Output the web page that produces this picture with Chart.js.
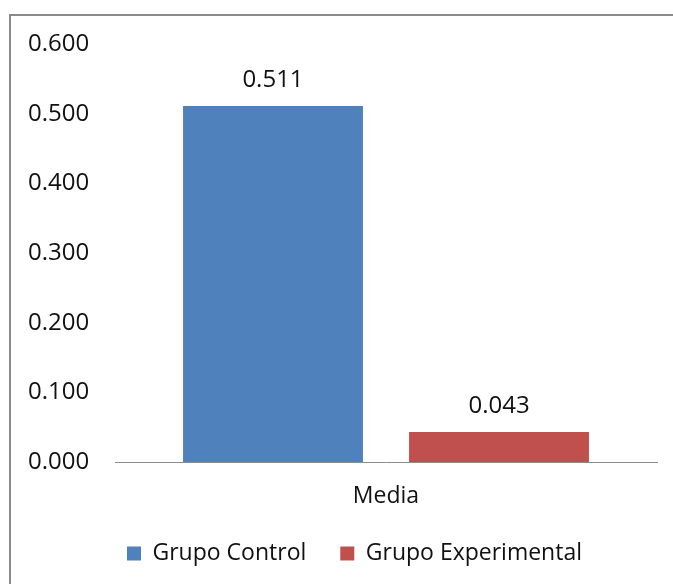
<!DOCTYPE html>
<html>
<head>
<meta charset="utf-8">
<script src="https://cdn.jsdelivr.net/npm/chart.js@4"></script>
<style>
  html, body { margin: 0; padding: 0; background: #fff; overflow: hidden; }
  #wrap { position: relative; width: 673px; height: 584px; }
  #frame { position: absolute; left: 9px; top: 14px; width: 720px; height: 620px;
           border: 2px solid #8a8a8a; box-sizing: border-box; }
  #c { position: absolute; left: 0; top: 0; }
</style>
</head>
<body>
<div id="wrap">
  <div id="frame"></div>
  <canvas id="c" width="673" height="584"></canvas>
</div>
<script>
// Mean scores per group
const categories = ['Media'];
const seriesNames = ['Grupo Control', 'Grupo Experimental'];
const controlValues = [0.511];
const experimentalValues = [0.043];
const yMin = 0, yMax = 0.6, yStep = 0.1;

const FONT = "'Open Sans', sans-serif";
const TEXT = '#111111';

// Value labels above each bar
const valueLabels = {
  id: 'valueLabels',
  afterDatasetsDraw(chart) {
    const ctx = chart.ctx;
    ctx.save();
    ctx.font = "24px " + FONT;
    ctx.fillStyle = TEXT;
    ctx.textAlign = 'center';
    ctx.textBaseline = 'middle';
    chart.data.datasets.forEach((ds, i) => {
      chart.getDatasetMeta(i).data.forEach((bar, j) => {
        ctx.fillText(ds.data[j].toFixed(3), bar.x, bar.y - 26);
      });
    });
    ctx.restore();
  }
};

new Chart(document.getElementById('c'), {
  type: 'bar',
  data: {
    labels: categories,
    datasets: [
      { label: seriesNames[0], data: controlValues, backgroundColor: '#4F81BD' },
      { label: seriesNames[1], data: experimentalValues, backgroundColor: '#C0504D' }
    ]
  },
  options: {
    responsive: false,
    animation: false,
    devicePixelRatio: 1,
    categoryPercentage: 0.834,
    barPercentage: 0.796,
    layout: { padding: { top: 44, left: 52, right: 16, bottom: 9 } },
    scales: {
      x: {
        grid: { display: false, drawTicks: false },
        border: { display: true, color: '#8c8c8c', width: 1 },
        ticks: { color: TEXT, font: { family: FONT, size: 23 }, padding: 21 },
        afterFit(scale) { scale.height = 46; }
      },
      y: {
        min: yMin, max: yMax,
        grid: { display: false, drawTicks: false },
        border: { display: false },
        ticks: {
          stepSize: yStep, color: TEXT,
          font: { family: FONT, size: 24 },
          // labels sit left-aligned from x = 28, ending ~26px before the plot
          mirror: true, crossAlign: 'near', padding: -87,
          callback: v => Number(v).toFixed(3)
        },
        afterFit(scale) { scale.width = 63; }
      }
    },
    plugins: {
      tooltip: { enabled: false },
      legend: {
        position: 'bottom',
        labels: {
          boxWidth: 14, boxHeight: 14, padding: 34, color: TEXT,
          font: { family: FONT, size: 23 }
        }
      }
    }
  },
  plugins: [valueLabels]
});
</script>
</body>
</html>
